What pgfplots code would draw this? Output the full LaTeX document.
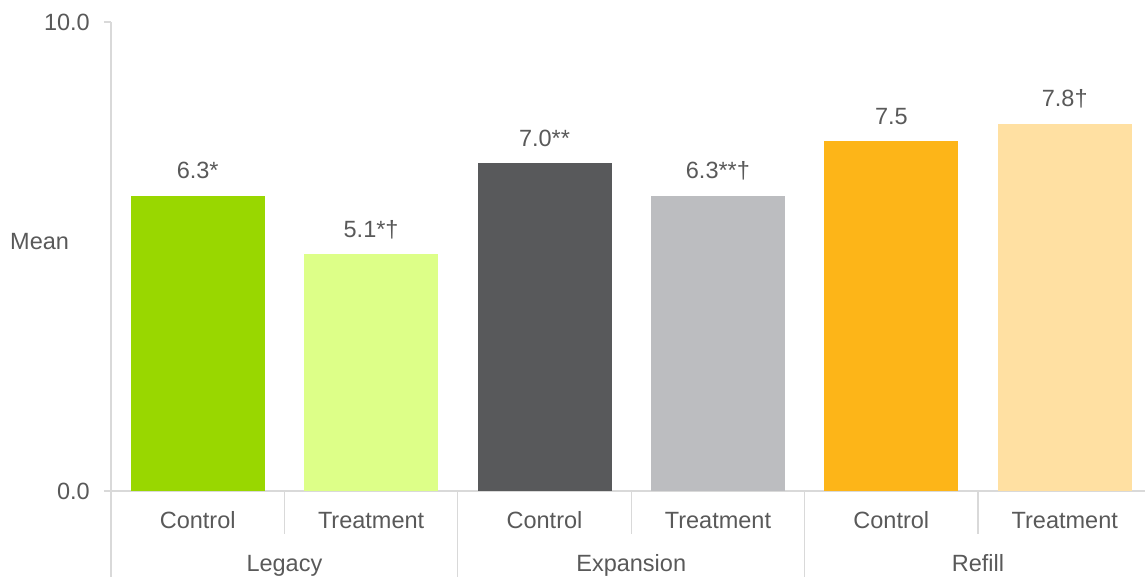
\documentclass[border=0pt]{standalone}
\usepackage{pgfplots}
\pgfplotsset{compat=1.18}
\usepackage{fontspec}
\setmainfont{Liberation Sans}
\definecolor{txt}{HTML}{595959}
\definecolor{axl}{HTML}{D9D9D9}
\definecolor{cA}{HTML}{99D700}
\definecolor{cB}{HTML}{DDFF88}
\definecolor{cC}{HTML}{58595B}
\definecolor{cD}{HTML}{BCBDC0}
\definecolor{cE}{HTML}{FDB518}
\definecolor{cF}{HTML}{FFE0A2}
\newcommand\ff{\fontsize{23.5bp}{28bp}\selectfont}
\begin{document}
\begin{tikzpicture}[font=\ff]
\begin{axis}[
  scale only axis, width=1034bp, height=469bp,
  xmin=-0.5, xmax=5.463, ymin=0, ymax=10,
  axis x line*=bottom, axis y line*=left,
  axis line style={draw=axl, line width=1.2bp, -},
  clip=false,
  ytick={0,10}, yticklabels={0.0,10.0},
  ytick style={draw=axl, line width=1.2bp},
  tick align=outside, major tick length=7bp,
  yticklabel style={anchor=east, inner sep=0pt, xshift=-14bp, text=txt, font=\ff},
  xtick={0,1,2,3,4,5},
  xticklabels={Control,Treatment,Control,Treatment,Control,Treatment},
  xtick style={draw=none},
  xticklabel style={anchor=base, inner sep=0pt, yshift=-30bp, text=txt, font=\ff},
  ybar, bar width=134bp, bar shift=0pt,
  point meta=explicit symbolic,
  nodes near coords,
  every node near coord/.append style={anchor=base, yshift=17bp, inner sep=0pt, text=txt, font=\ff},
]
\addplot[draw=none, fill=cA] coordinates {(0,6.29) [6.3*]};
\addplot[draw=none, fill=cB] coordinates {(1,5.05) [5.1*†]};
\addplot[draw=none, fill=cC] coordinates {(2,6.99) [7.0**]};
\addplot[draw=none, fill=cD] coordinates {(3,6.29) [6.3**†]};
\addplot[draw=none, fill=cE] coordinates {(4,7.46) [7.5]};
\addplot[draw=none, fill=cF] coordinates {(5,7.83) [7.8†]};
\draw[axl, line width=1.2bp] (axis cs:-0.5,0) -- ([yshift=-86bp]axis cs:-0.5,0);
\draw[axl, line width=1.2bp] (axis cs:1.5,0) -- ([yshift=-86bp]axis cs:1.5,0);
\draw[axl, line width=1.2bp] (axis cs:3.5,0) -- ([yshift=-86bp]axis cs:3.5,0);
\draw[axl, line width=1.2bp] (axis cs:0.5,0) -- ([yshift=-43bp]axis cs:0.5,0);
\draw[axl, line width=1.2bp] (axis cs:2.5,0) -- ([yshift=-43bp]axis cs:2.5,0);
\draw[axl, line width=1.2bp] (axis cs:4.5,0) -- ([yshift=-43bp]axis cs:4.5,0);
\node[anchor=base, inner sep=0pt, text=txt] at ([yshift=-80bp]axis cs:0.5,0) {Legacy};
\node[anchor=base, inner sep=0pt, text=txt] at ([yshift=-80bp]axis cs:2.5,0) {Expansion};
\node[anchor=base, inner sep=0pt, text=txt] at ([yshift=-80bp]axis cs:4.5,0) {Refill};
\node[anchor=base west, inner sep=0pt, text=txt] at ([xshift=-101bp]axis cs:-0.5,5.14) {Mean};
\end{axis}
\pgfresetboundingbox
\useasboundingbox (-111bp,-86bp) rectangle (1034bp,491bp);
\end{tikzpicture}
\end{document}
